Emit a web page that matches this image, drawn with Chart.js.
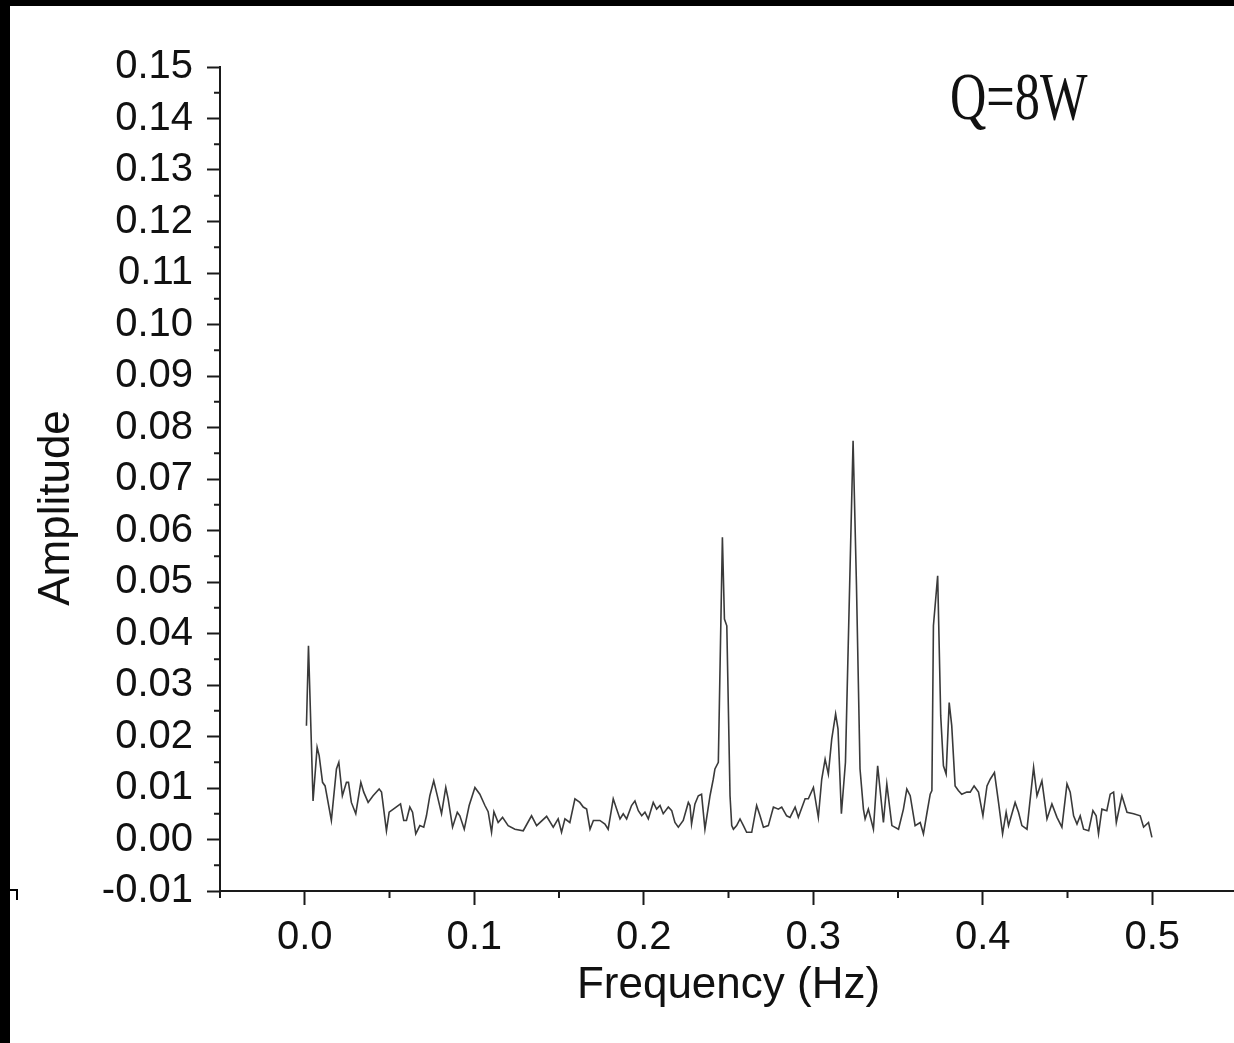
<!DOCTYPE html>
<html>
<head>
<meta charset="utf-8">
<title>Amplitude spectrum, Q=8W</title>
<script src="https://cdn.jsdelivr.net/npm/chart.js@4.4.1/dist/chart.umd.min.js"></script>
<style>
  html, body { margin: 0; padding: 0; background: #fff; overflow: hidden; }
  #wrap { position: relative; width: 1234px; height: 1043px; overflow: hidden; }
  #spectrum { position: absolute; left: 0; top: 0; }
  .edge { position: absolute; background: #000; }
  .hook { position: absolute; left: 10px; top: 889px; width: 6px; height: 9px;
          border-top: 2px solid #000; border-right: 2px solid #000; }
</style>
</head>
<body>
<div id="wrap">
  <canvas id="spectrum" width="1240" height="1043"></canvas>
  <div class="edge" style="left:0;top:0;width:1234px;height:6px"></div>
  <div class="edge" style="left:0;top:0;width:10px;height:1043px"></div>
  <div class="hook"></div>
</div>
<script>
// spectrum (Hz / amplitude)
const freqHz = [
  0.0010, 0.0022, 0.0049, 0.0073, 0.0085, 0.0105, 0.0120, 0.0157, 0.0187, 0.0201,
  0.0222, 0.0246, 0.0258, 0.0275, 0.0301, 0.0331, 0.0348, 0.0374, 0.0403, 0.0439,
  0.0453, 0.0482, 0.0498, 0.0531, 0.0565, 0.0584, 0.0600, 0.0620, 0.0636, 0.0655,
  0.0679, 0.0702, 0.0718, 0.0738, 0.0761, 0.0777, 0.0807, 0.0832, 0.0846, 0.0872,
  0.0900, 0.0915, 0.0941, 0.0970, 0.1004, 0.1033, 0.1063, 0.1082, 0.1102, 0.1116,
  0.1141, 0.1167, 0.1200, 0.1240, 0.1289, 0.1338, 0.1368, 0.1427, 0.1466, 0.1495,
  0.1515, 0.1535, 0.1564, 0.1594, 0.1623, 0.1643, 0.1663, 0.1683, 0.1703, 0.1741,
  0.1771, 0.1790, 0.1820, 0.1840, 0.1860, 0.1879, 0.1899, 0.1928, 0.1948, 0.1968,
  0.1988, 0.2007, 0.2027, 0.2056, 0.2076, 0.2096, 0.2115, 0.2145, 0.2165, 0.2184,
  0.2204, 0.2233, 0.2263, 0.2273, 0.2282, 0.2302, 0.2322, 0.2341, 0.2361, 0.2391,
  0.2410, 0.2420, 0.2440, 0.2464, 0.2476, 0.2490, 0.2509, 0.2519, 0.2529, 0.2548,
  0.2568, 0.2588, 0.2607, 0.2637, 0.2666, 0.2686, 0.2706, 0.2735, 0.2765, 0.2794,
  0.2814, 0.2843, 0.2863, 0.2893, 0.2912, 0.2952, 0.2971, 0.3001, 0.3030, 0.3050,
  0.3070, 0.3089, 0.3109, 0.3132, 0.3146, 0.3166, 0.3190, 0.3235, 0.3255, 0.3276,
  0.3296, 0.3306, 0.3325, 0.3355, 0.3380, 0.3414, 0.3434, 0.3464, 0.3503, 0.3532,
  0.3552, 0.3572, 0.3601, 0.3631, 0.3650, 0.3670, 0.3690, 0.3700, 0.3709, 0.3734,
  0.3752, 0.3768, 0.3784, 0.3802, 0.3817, 0.3837, 0.3856, 0.3876, 0.3906, 0.3926,
  0.3949, 0.3975, 0.4001, 0.4025, 0.4044, 0.4069, 0.4093, 0.4117, 0.4138, 0.4152,
  0.4191, 0.4211, 0.4231, 0.4261, 0.4300, 0.4320, 0.4349, 0.4379, 0.4408, 0.4438,
  0.4467, 0.4497, 0.4516, 0.4536, 0.4556, 0.4575, 0.4595, 0.4625, 0.4650, 0.4669,
  0.4683, 0.4703, 0.4732, 0.4752, 0.4772, 0.4788, 0.4821, 0.4851, 0.4890, 0.4929,
  0.4949, 0.4978, 0.4998
];

const amplitude = [
  0.0221, 0.0376, 0.0075, 0.0179, 0.0163, 0.0111, 0.0104, 0.0037, 0.0137, 0.0150,
  0.0085, 0.0111, 0.0111, 0.0072, 0.0050, 0.0111, 0.0092, 0.0072, 0.0085, 0.0098,
  0.0092, 0.0017, 0.0053, 0.0061, 0.0069, 0.0037, 0.0037, 0.0063, 0.0053, 0.0011,
  0.0027, 0.0024, 0.0046, 0.0085, 0.0114, 0.0092, 0.0050, 0.0101, 0.0079, 0.0024,
  0.0053, 0.0046, 0.0020, 0.0066, 0.0101, 0.0088, 0.0066, 0.0054, 0.0014, 0.0054,
  0.0033, 0.0043, 0.0027, 0.0020, 0.0017, 0.0046, 0.0027, 0.0045, 0.0024, 0.0040,
  0.0014, 0.0040, 0.0033, 0.0079, 0.0072, 0.0063, 0.0059, 0.0020, 0.0037, 0.0037,
  0.0030, 0.0020, 0.0079, 0.0059, 0.0040, 0.0050, 0.0040, 0.0066, 0.0075, 0.0056,
  0.0046, 0.0053, 0.0040, 0.0072, 0.0059, 0.0066, 0.0050, 0.0063, 0.0056, 0.0033,
  0.0024, 0.0037, 0.0072, 0.0066, 0.0030, 0.0069, 0.0085, 0.0088, 0.0020, 0.0085,
  0.0117, 0.0137, 0.0150, 0.0587, 0.0428, 0.0415, 0.0085, 0.0027, 0.0020, 0.0027,
  0.0040, 0.0027, 0.0014, 0.0014, 0.0066, 0.0046, 0.0024, 0.0027, 0.0063, 0.0059,
  0.0063, 0.0046, 0.0043, 0.0063, 0.0043, 0.0079, 0.0079, 0.0101, 0.0043, 0.0117,
  0.0156, 0.0127, 0.0195, 0.0244, 0.0215, 0.0050, 0.0150, 0.0774, 0.0493, 0.0137,
  0.0059, 0.0040, 0.0059, 0.0020, 0.0143, 0.0033, 0.0108, 0.0027, 0.0020, 0.0059,
  0.0098, 0.0085, 0.0027, 0.0033, 0.0011, 0.0050, 0.0088, 0.0095, 0.0415, 0.0512,
  0.0240, 0.0143, 0.0127, 0.0266, 0.0221, 0.0104, 0.0095, 0.0088, 0.0092, 0.0092,
  0.0104, 0.0092, 0.0046, 0.0104, 0.0117, 0.0130, 0.0072, 0.0011, 0.0053, 0.0027,
  0.0072, 0.0053, 0.0027, 0.0020, 0.0140, 0.0085, 0.0114, 0.0040, 0.0069, 0.0043,
  0.0024, 0.0108, 0.0092, 0.0046, 0.0030, 0.0046, 0.0020, 0.0017, 0.0056, 0.0046,
  0.0011, 0.0059, 0.0056, 0.0088, 0.0092, 0.0033, 0.0085, 0.0053, 0.0050, 0.0046,
  0.0024, 0.0033, 0.0004
];

// axis ticks
const xTicks = [0.0, 0.1, 0.2, 0.3, 0.4, 0.5];
const xMinorTicks = [-0.05, 0.05, 0.15, 0.25, 0.35, 0.45, 0.55];
const yTicks = [-0.01, 0.00, 0.01, 0.02, 0.03, 0.04, 0.05, 0.06, 0.07, 0.08,
                0.09, 0.10, 0.11, 0.12, 0.13, 0.14, 0.15];
const yMinorTicks = yTicks.slice(0, -1).map(v => v + 0.005);

const sansFont = "'Liberation Sans', Arial, Helvetica, sans-serif";
const axisColor = '#1a1a1a';

// Origin-style short minor ticks + the rotated y title and the Q=8W note
const extras = {
  id: 'extras',
  afterDraw(chart) {
    const { ctx, scales: { x, y } } = chart;
    ctx.save();
    ctx.strokeStyle = axisColor;
    ctx.lineWidth = 2;
    ctx.beginPath();
    xMinorTicks.forEach(v => {
      const px = x.getPixelForValue(v);
      ctx.moveTo(px, y.bottom);
      ctx.lineTo(px, y.bottom + 7);
    });
    yMinorTicks.forEach(v => {
      const py = y.getPixelForValue(v);
      ctx.moveTo(x.left - 6, py);
      ctx.lineTo(x.left, py);
    });
    ctx.stroke();

    ctx.fillStyle = '#111';
    ctx.font = `44px ${sansFont}`;
    ctx.textAlign = 'center';
    ctx.textBaseline = 'middle';
    ctx.translate(57, 508);
    ctx.rotate(-Math.PI / 2);
    ctx.fillText('Amplitude', 0, 0);
    ctx.restore();

    ctx.save();
    ctx.fillStyle = '#111';
    ctx.font = "68px 'Liberation Serif', 'Times New Roman', serif";
    ctx.textAlign = 'left';
    ctx.textBaseline = 'alphabetic';
    ctx.translate(950, 119);
    ctx.scale(0.74, 1);
    ctx.fillText('Q=8W', 0, 0);
    ctx.restore();
  }
};

const ctx = document.getElementById('spectrum').getContext('2d');
new Chart(ctx, {
  type: 'line',
  data: {
    datasets: [{
      data: freqHz.map((f, i) => ({ x: f, y: amplitude[i] })),
      borderColor: '#3a3a3a',
      borderWidth: 1.6,
      pointRadius: 0,
      tension: 0,
      fill: false
    }]
  },
  options: {
    responsive: false,
    animation: false,
    layout: { padding: { top: 67, right: 3, bottom: 0, left: 0 } },
    plugins: {
      legend: { display: false },
      tooltip: { enabled: false }
    },
    scales: {
      x: {
        type: 'linear',
        min: -0.05,
        max: 0.55,
        afterBuildTicks: axis => { axis.ticks = xTicks.map(v => ({ value: v })); },
        afterFit: axis => { axis.height = 152; },
        grid: { drawOnChartArea: false, tickLength: 14, tickWidth: 2, tickColor: axisColor },
        border: { color: axisColor, width: 2 },
        ticks: {
          padding: 9,
          color: '#111',
          maxRotation: 0,
          autoSkip: false,
          font: { family: sansFont, size: 40 },
          callback: v => v.toFixed(1)
        },
        title: {
          display: true,
          text: 'Frequency (Hz)',
          color: '#111',
          font: { family: sansFont, size: 44 },
          padding: { top: 0, bottom: 31 }
        }
      },
      y: {
        type: 'linear',
        min: -0.01,
        max: 0.15,
        afterBuildTicks: axis => { axis.ticks = yTicks.map(v => ({ value: v })); },
        afterFit: axis => { axis.width = 220; },
        grid: { drawOnChartArea: false, tickLength: 13, tickWidth: 2, tickColor: axisColor },
        border: { color: axisColor, width: 2 },
        ticks: {
          padding: 14,
          color: '#111',
          autoSkip: false,
          font: { family: sansFont, size: 40 },
          callback: v => v.toFixed(2)
        }
      }
    }
  },
  plugins: [extras]
});
</script>
</body>
</html>
